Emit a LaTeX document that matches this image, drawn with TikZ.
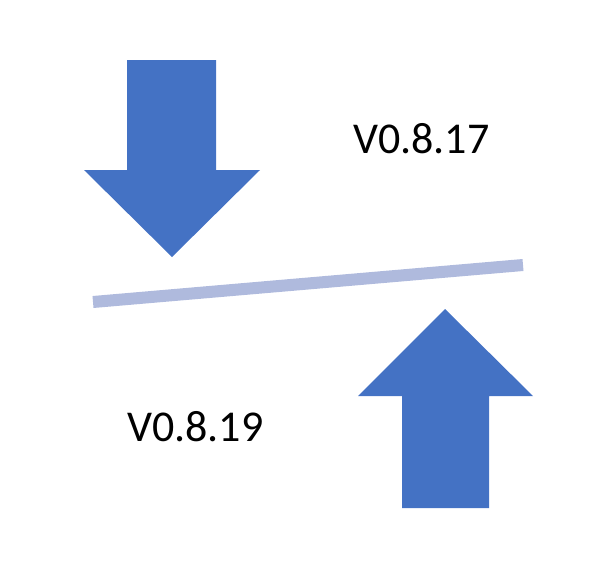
\documentclass[tikz,border=0pt]{standalone}
\usepackage{fontspec}
\setmainfont{Carlito}
\definecolor{arrowblue}{HTML}{4472C4}
\definecolor{barblue}{HTML}{AFBADD}
\begin{document}
\begin{tikzpicture}[x=1pt,y=-1pt,
  bigarrow/.style={fill=arrowblue,draw=none},
  lbl/.style={font=\fontsize{44}{50}\selectfont,inner sep=0pt,anchor=base west}]
\useasboundingbox (0,0) rectangle (608,576);
\fill[bigarrow] (127,60) -- (216,60) -- (216,170) -- (260,170) -- (172,257) -- (84,170) -- (127,170) -- cycle;
\fill[bigarrow] (402,508) -- (489,508) -- (489,396) -- (533,396) -- (445,309) -- (358,396) -- (402,396) -- cycle;
\coordinate (a) at (93,302);
\coordinate (b) at (523,265);
\draw[barblue,line width=12pt] (a) -- (b);
\node[lbl] (t1) at (353,153) {V0.8.17};
\node[lbl] (t2) at (127,441) {V0.8.19};
\end{tikzpicture}
\end{document}
